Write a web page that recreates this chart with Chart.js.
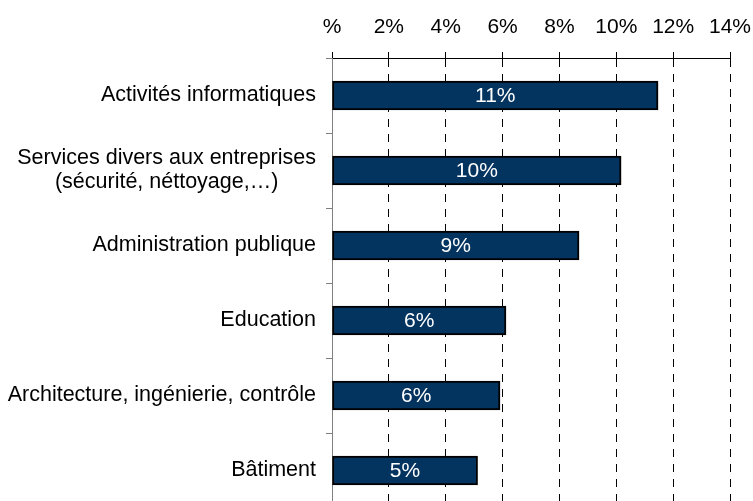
<!DOCTYPE html>
<html>
<head>
<meta charset="utf-8">
<script src="https://cdn.jsdelivr.net/npm/chart.js@4/dist/chart.umd.min.js"></script>
<style>
  html, body { margin:0; padding:0; background:#fff; overflow:hidden; }
  #wrap { width:753px; height:508px; position:relative; }
</style>
</head>
<body>
<div id="wrap"><canvas id="chart"></canvas></div>
<script>
// ---------------------------
// DATA
// ---------------------------
const categories = [
  "Activités informatiques",
  ["Services divers aux entreprises", "(sécurité, néttoyage,…)"],
  "Administration publique",
  "Education",
  "Architecture, ingénierie, contrôle",
  "Bâtiment"
];
const shares = [11.47, 10.17, 8.69, 6.12, 5.91, 5.12];
const tickValues = [0, 2, 4, 6, 8, 10, 12, 14];

const FONT = "'Liberation Sans', Arial, sans-serif";
const BAR = "#03335f";

// labels on the left, lines centred on each other, block right-aligned
const yLabels = {
  id: "yLabels",
  afterDraw(chart){
    const { ctx, scales:{ y } } = chart;
    const right = chart.chartArea.left - 16;
    ctx.save();
    ctx.font = "21.5px " + FONT;
    ctx.fillStyle = "#000";
    ctx.textAlign = "center";
    ctx.textBaseline = "middle";
    categories.forEach((c, i)=>{
      const lines = Array.isArray(c) ? c : [c];
      const w = Math.max(...lines.map(l=>ctx.measureText(l).width));
      const cy = y.getPixelForValue(i);
      const lh = 24;
      lines.forEach((l, j)=>{
        ctx.fillText(l, right - w/2, cy + (j - (lines.length-1)/2) * lh);
      });
    });
    ctx.restore();
  }
};

// value labels inside the bars
const barLabels = {
  id: "barLabels",
  afterDatasetsDraw(chart){
    const { ctx } = chart;
    const meta = chart.getDatasetMeta(0);
    ctx.save();
    ctx.font = "21px " + FONT;
    ctx.fillStyle = "#fff";
    ctx.textAlign = "center";
    ctx.textBaseline = "middle";
    meta.data.forEach((bar, i)=>{
      ctx.fillText(Math.round(shares[i]) + "%", (bar.x + bar.base)/2, bar.y + 1);
    });
    ctx.restore();
  }
};

new Chart(document.getElementById("chart"), {
  type: "bar",
  data: {
    labels: categories,
    datasets: [{
      data: shares,
      backgroundColor: BAR,
      borderColor: "#000",
      borderWidth: 2,
      borderSkipped: false,
      barThickness: 29
    }]
  },
  options: {
    indexAxis: "y",
    responsive: true,
    maintainAspectRatio: false,
    animation: false,
    layout: { padding: { left: 0, right: 23, top: 0, bottom: 0 } },
    plugins: { legend: { display:false }, tooltip: { enabled:false } },
    scales: {
      x: {
        position: "top",
        min: 0, max: 14,
        afterBuildTicks: s => { s.ticks = tickValues.map(v=>({ value:v })); },
        afterFit: s => { s.height = 58; s.paddingLeft = 0; s.paddingRight = 0; },
        ticks: {
          font: { family: FONT, size: 21 },
          color: "#000",
          padding: 12,
          maxRotation: 0,
          callback: v => v === 0 ? "%" : v + "%"
        },
        grid: {
          color: c => c.index === 0 ? "rgba(0,0,0,0)" : "#000",
          lineWidth: 1,
          tickColor: "#000",
          tickLength: 6
        },
        border: { color:"#000", width:1, dash:[8,7] }
      },
      y: {
        afterFit: s => { s.width = 332; },
        ticks: { display:false },
        grid: {
          offset: true,
          drawOnChartArea: false,
          color: "#808080",
          tickLength: 6
        },
        border: { color:"#808080", width:1 }
      }
    }
  },
  plugins: [yLabels, barLabels]
});
</script>
</body>
</html>
